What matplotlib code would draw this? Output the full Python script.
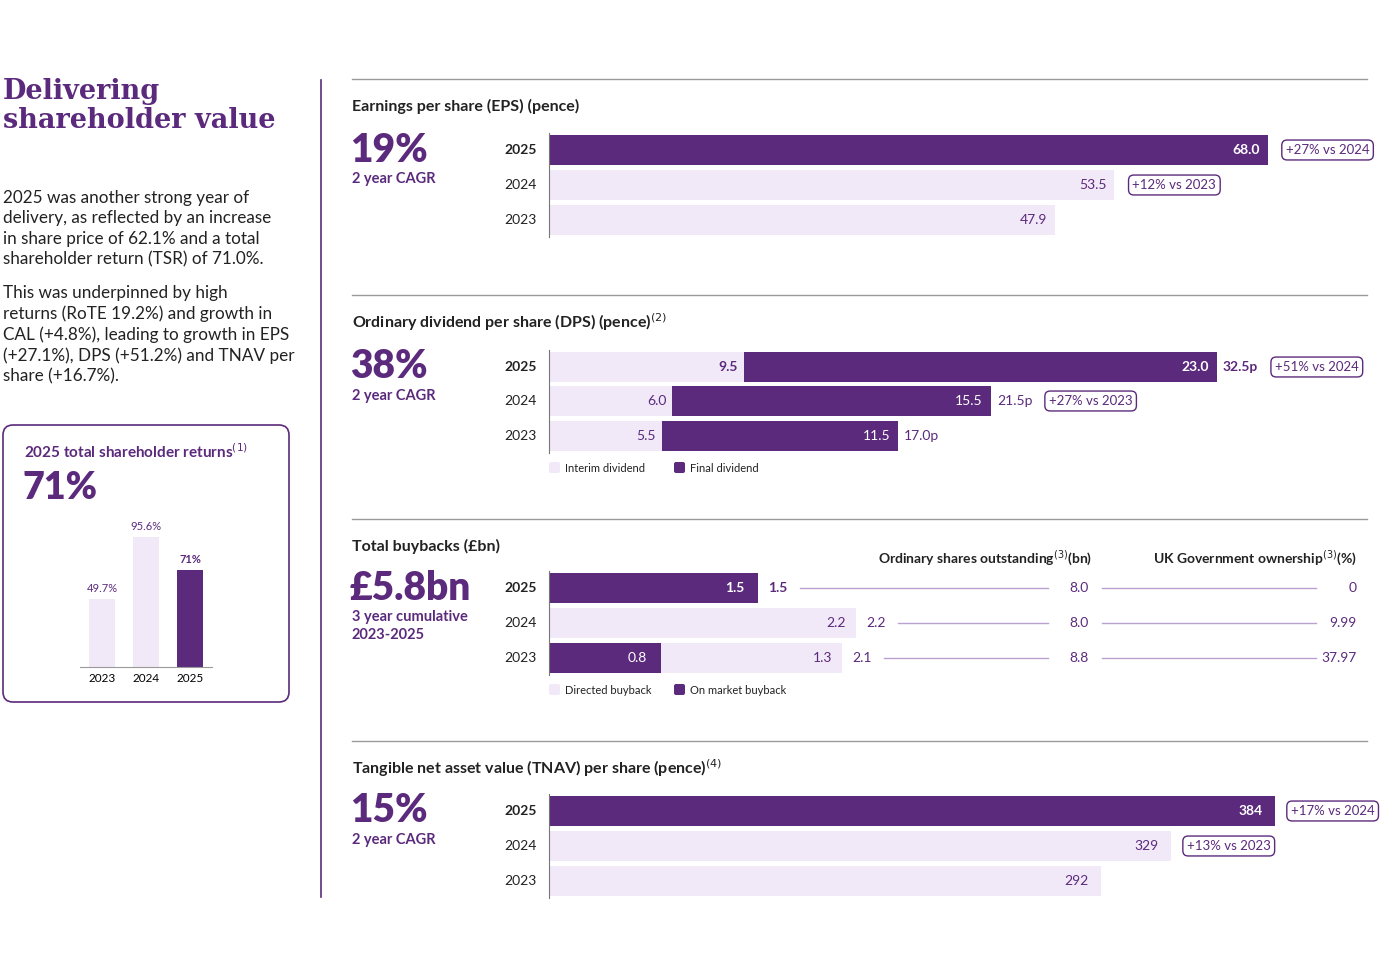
import matplotlib.pyplot as plt
from matplotlib.patches import FancyBboxPatch

W, H = 1398, 974
DARK = '#5b2a7c'
LIGHT = '#f1e9f8'
LINE = '#b9a2d0'
GREY = '#9a9a9a'
TXT = '#222222'

plt.rcParams['font.family'] = ['Lato', 'DejaVu Sans']

years = ['2025', '2024', '2023']

eps_vals = [68.0, 53.5, 47.9]
eps_badges = ['+27% vs 2024', '+12% vs 2023', None]

dps_interim = [9.5, 6.0, 5.5]
dps_final = [23.0, 15.5, 11.5]
dps_total = ['32.5p', '21.5p', '17.0p']
dps_badges = ['+51% vs 2024', '+27% vs 2023', None]

bb_directed = [0.0, 2.2, 1.3]
bb_market = [1.5, 0.0, 0.8]
bb_total = [1.5, 2.2, 2.1]
shares_out = ['8.0', '8.0', '8.8']
ukgov = ['0', '9.99', '37.97']

tnav_vals = [384, 329, 292]
tnav_badges = ['+17% vs 2024', '+13% vs 2023', None]

tsr_years = ['2023', '2024', '2025']
tsr_vals = [49.7, 95.6, 71.0]
tsr_labels = ['49.7%', '95.6%', '71%']

fig = plt.figure(figsize=(W / 100, H / 100), dpi=100)
ax = fig.add_axes([0, 0, 1, 1])
ax.set_xlim(0, W)
ax.set_ylim(H, 0)
ax.axis('off')

X0 = 549
BH = 30


def badge(x, y, s):
    ax.text(x, y, s, fontsize=9.5, color=DARK, va='center', ha='left',
            bbox=dict(boxstyle='round,pad=0.3,rounding_size=0.4', fc='white', ec=DARK, lw=1))


def section(top, title, big, sub, rows_y):
    ax.plot([352, 1367], [top, top], color=GREY, lw=1)
    ax.text(352, top + 27, title, fontsize=11.5, fontweight='bold', color=TXT, va='center')
    ax.text(350, rows_y[0], big, fontsize=28, fontweight='heavy', color=DARK, va='center')
    ax.text(352, rows_y[0] + 22, sub, fontsize=10.5, fontweight='bold', color=DARK, va='top',
            linespacing=1.4)
    for i, (yr, y) in enumerate(zip(years, rows_y)):
        ax.text(537, y, yr, fontsize=10, ha='right', va='center', color=TXT,
                fontweight='bold' if i == 0 else 'normal')
    ax.plot([X0, X0], [rows_y[0] - BH / 2 - 2, rows_y[-1] + BH / 2 + 2], color='#777777', lw=0.8)


# --- left column
ax.text(3, 106, 'Delivering\nshareholder value', family='DejaVu Serif', fontsize=19.5,
        fontweight='bold', color=DARK, va='center', linespacing=1.05)
ax.text(3, 190, '2025 was another strong year of\ndelivery, as reflected by an increase\n'
        'in share price of 62.1% and a total\nshareholder return (TSR) of 71.0%.',
        fontsize=12.3, color=TXT, va='top', linespacing=1.33)
ax.text(3, 285, 'This was underpinned by high\nreturns (RoTE 19.2%) and growth in\n'
        'CAL (+4.8%), leading to growth in EPS\n(+27.1%), DPS (+51.2%) and TNAV per\nshare (+16.7%).',
        fontsize=12.3, color=TXT, va='top', linespacing=1.33)
ax.plot([321, 321], [80, 897], color=DARK, lw=1.2)

ax.add_patch(FancyBboxPatch((3, 425), 286, 277, boxstyle='round,pad=0,rounding_size=10',
                            fc='white', ec=DARK, lw=1.2))
ax.text(24, 452, '2025 total shareholder returns$^{(1)}$', fontsize=11, fontweight='bold',
        color=DARK, va='center')
ax.text(22, 488, '71%', fontsize=27, fontweight='heavy', color=DARK, va='center')

tax = fig.add_axes([80 / W, 1 - 667 / H, 132 / W, 140 / H])
tax.bar(range(3), tsr_vals, width=0.58, color=[LIGHT, LIGHT, DARK])
for i, (v, l) in enumerate(zip(tsr_vals, tsr_labels)):
    tax.text(i, v + 4, l, ha='center', va='bottom', fontsize=8, color=DARK,
             fontweight='bold' if i == 2 else 'normal')
tax.set_ylim(0, 103)
tax.set_xlim(-0.5, 2.5)
for s in ['top', 'right', 'left']:
    tax.spines[s].set_visible(False)
tax.spines['bottom'].set_color(GREY)
tax.set_yticks([])
tax.set_xticks(range(3), tsr_years, fontsize=8.5)
tax.tick_params(axis='x', length=0, pad=4)

# --- EPS
ry = [150, 185, 220]
section(79, 'Earnings per share (EPS) (pence)', '19%', '2 year CAGR', ry)
sc = 10.57
for i, (v, y) in enumerate(zip(eps_vals, ry)):
    ax.barh(y, v * sc, left=X0, height=BH, color=DARK if i == 0 else LIGHT)
    ax.text(X0 + v * sc - 8, y, f'{v:.1f}', ha='right', va='center', fontsize=10,
            color='white' if i == 0 else DARK, fontweight='bold' if i == 0 else 'normal')
    if eps_badges[i]:
        badge(X0 + v * sc + 18, y, eps_badges[i])

# --- DPS
ry = [367, 401, 436]
section(295, 'Ordinary dividend per share (DPS) (pence)$^{(2)}$', '38%', '2 year CAGR', ry)
sc = 20.55
for i, y in enumerate(ry):
    a, b = dps_interim[i], dps_final[i]
    ax.barh(y, a * sc, left=X0, height=BH, color=LIGHT)
    ax.barh(y, b * sc, left=X0 + a * sc, height=BH, color=DARK)
    wt = 'bold' if i == 0 else 'normal'
    ax.text(X0 + a * sc - 6, y, f'{a:.1f}', ha='right', va='center', fontsize=10, color=DARK, fontweight=wt)
    ax.text(X0 + (a + b) * sc - 8, y, f'{b:.1f}', ha='right', va='center', fontsize=10, color='white', fontweight=wt)
    end = X0 + (a + b) * sc
    ax.text(end + 6, y, dps_total[i], ha='left', va='center', fontsize=10, color=DARK, fontweight=wt)
    if dps_badges[i]:
        badge(end + 58, y, dps_badges[i])
for x, c, l in [(549, LIGHT, 'Interim dividend'), (674, DARK, 'Final dividend')]:
    ax.add_patch(FancyBboxPatch((x, 462), 11, 11, boxstyle='round,pad=0,rounding_size=2', fc=c, ec='none'))
    ax.text(x + 16, 468, l, fontsize=8, va='center', color=TXT)

# --- Buybacks
ry = [588, 623, 658]
section(519, 'Total buybacks (£bn)', '£5.8bn', '3 year cumulative\n2023-2025', ry)
ax.text(1092, 558, 'Ordinary shares outstanding$^{(3)}$(bn)', ha='right', va='center',
        fontsize=10, fontweight='bold', color=TXT)
ax.text(1357, 558, 'UK Government ownership$^{(3)}$(%)', ha='right', va='center',
        fontsize=10, fontweight='bold', color=TXT)
sc = 139.5
for i, y in enumerate(ry):
    m, d = bb_market[i], bb_directed[i]
    wt = 'bold' if i == 0 else 'normal'
    if d:
        ax.barh(y, (m + d) * sc, left=X0, height=BH, color=LIGHT)
        ax.text(X0 + (m + d) * sc - 10, y, f'{d:.1f}', ha='right', va='center', fontsize=10, color=DARK)
    if m:
        ax.barh(y, m * sc, left=X0, height=BH, color=DARK)
        ax.text(X0 + m * sc - 14, y, f'{m:.1f}', ha='right', va='center', fontsize=10, color='white', fontweight=wt)
    end = X0 + bb_total[i] * sc
    ax.text(end + 10, y, f'{bb_total[i]:.1f}', ha='left', va='center', fontsize=10, color=DARK, fontweight=wt)
    ax.plot([end + 42, 1048], [y, y], color=LINE, lw=1)
    ax.text(1089, y, shares_out[i], ha='right', va='center', fontsize=10, color=DARK)
    ax.plot([1102, 1316], [y, y], color=LINE, lw=1)
    ax.text(1357, y, ukgov[i], ha='right', va='center', fontsize=10, color=DARK)
for x, c, l in [(549, LIGHT, 'Directed buyback'), (674, DARK, 'On market buyback')]:
    ax.add_patch(FancyBboxPatch((x, 684), 11, 11, boxstyle='round,pad=0,rounding_size=2', fc=c, ec='none'))
    ax.text(x + 16, 690, l, fontsize=8, va='center', color=TXT)

# --- TNAV
ry = [811, 846, 881]
section(741, 'Tangible net asset value (TNAV) per share (pence)$^{(4)}$', '15%', '2 year CAGR', ry)
sc = 1.89
for i, (v, y) in enumerate(zip(tnav_vals, ry)):
    ax.barh(y, v * sc, left=X0, height=BH, color=DARK if i == 0 else LIGHT)
    ax.text(X0 + v * sc - 12, y, f'{v}', ha='right', va='center', fontsize=10,
            color='white' if i == 0 else DARK, fontweight='bold' if i == 0 else 'normal')
    if tnav_badges[i]:
        badge(X0 + v * sc + 16, y, tnav_badges[i])

fig.savefig('out.png', dpi=100)
